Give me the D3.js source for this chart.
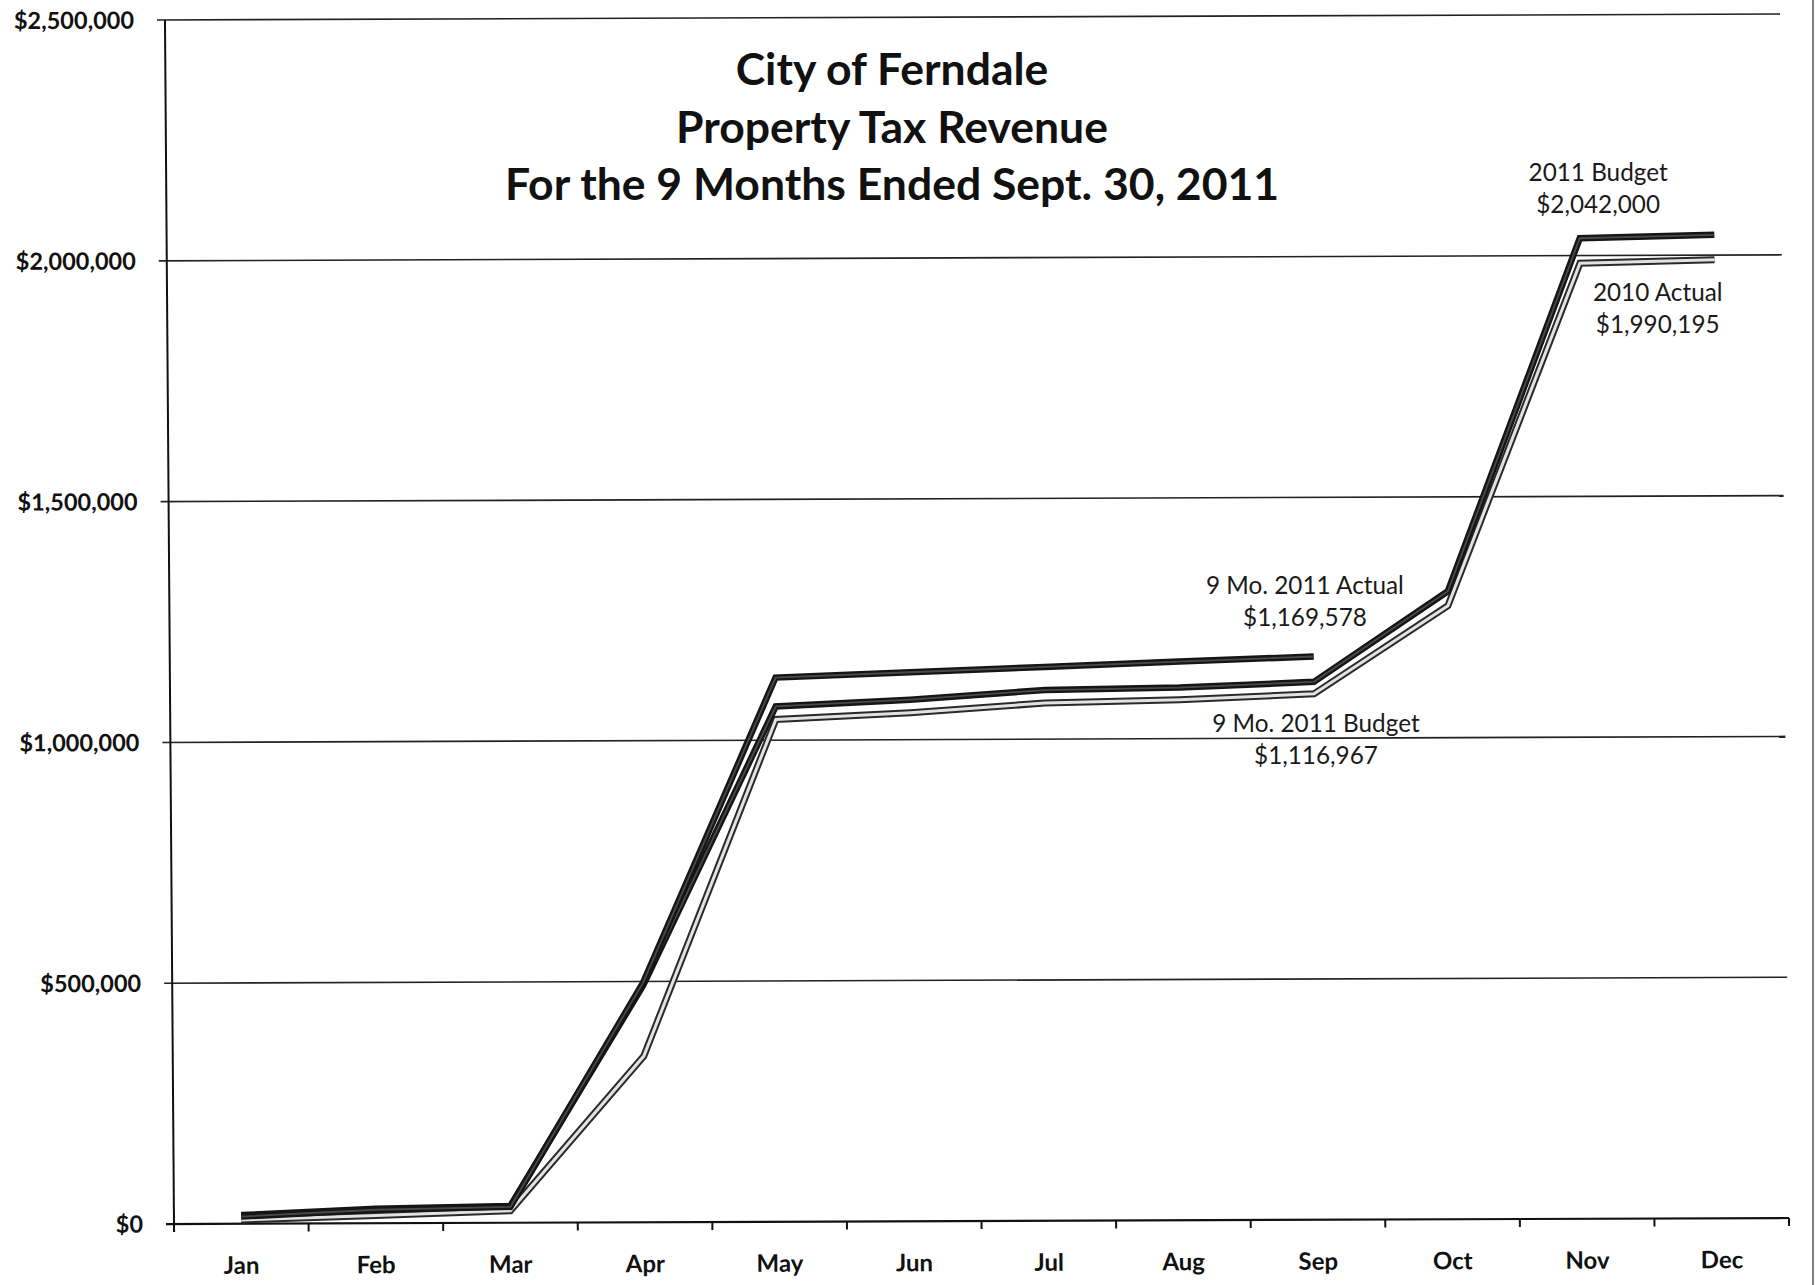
<!DOCTYPE html>
<html><head><meta charset="utf-8">
<script src="https://cdn.jsdelivr.net/npm/d3@7/dist/d3.min.js"></script>
<style>
body{margin:0;background:#fff}
svg{display:block}
</style>
</head><body>
<svg id="chart" width="1818" height="1285"></svg>
<script>
// ---------- data ----------
const months = ["Jan","Feb","Mar","Apr","May","Jun","Jul","Aug","Sep","Oct","Nov","Dec"];
const budget2011   = [18000, 30000, 35000, 492000, 1070000, 1083000, 1102000, 1106000, 1116967, 1304000, 2036000, 2042000];
const actual2010   = [8000, 16000, 25000, 345000, 1043000, 1056000, 1075000, 1081000, 1092000, 1274000, 1984000, 1990195];
const actual9mo2011 = [15000, 28000, 33000, 498000, 1130000, 1140000, 1150000, 1160000, 1169578];
const yTickValues = [0, 500000, 1000000, 1500000, 2000000, 2500000];
const titleLines = ["City of Ferndale", "Property Tax Revenue", "For the 9 Months Ended Sept. 30, 2011"];
const labelBudget = ["2011 Budget", "$2,042,000"];
const label2010 = ["2010 Actual", "$1,990,195"];
const label9moActual = ["9 Mo. 2011 Actual", "$1,169,578"];
const label9moBudget = ["9 Mo. 2011 Budget", "$1,116,967"];

// ---------- layout ----------
const svg = d3.select("#chart");
const x0 = 174, x1 = 1789, y0 = 1224, yTop = 20;
const xs = d3.scaleBand().domain(months).range([x0, x1]).padding(0);
const ys = d3.scaleLinear().domain([0, 2500000]).range([y0, yTop]);
const cx = m => xs(m) + xs.bandwidth() / 2;

// the scanned original is slightly skewed / rotated
const k = 0.0075, m = 0.0037;
const g = svg.append("g")
  .attr("transform", `translate(${x0},${y0}) matrix(1,${-m},${k},1,0,0) translate(${-x0},${-y0})`);

const font = "Lato, 'Open Sans', sans-serif";

// gridlines
g.append("g").selectAll("line").data(yTickValues).join("line")
  .attr("x1", x0 - 8).attr("x2", x1)
  .attr("y1", d => ys(d)).attr("y2", d => ys(d))
  .attr("stroke", d => d === 0 ? "#111" : "#222")
  .attr("stroke-width", d => d === 0 ? 2.2 : 1.6);

// y axis line
g.append("line").attr("x1", x0).attr("x2", x0).attr("y1", yTop).attr("y2", y0 + 8)
  .attr("stroke", "#111").attr("stroke-width", 2);

// y tick labels
g.append("g").selectAll("text").data(yTickValues).join("text")
  .attr("x", x0 - 31).attr("y", d => ys(d)).attr("dy", "0.36em")
  .attr("text-anchor", "end")
  .attr("font-family", font).attr("font-weight", 700).attr("font-size", 23.5)
  .attr("fill", "#111")
  .text(d => "$" + d3.format(",")(d));

// x ticks
const tickPositions = months.map(mo => xs(mo)).concat([x1]);
g.append("g").selectAll("line").data(tickPositions).join("line")
  .attr("x1", d => d).attr("x2", d => d).attr("y1", y0).attr("y2", y0 + 8)
  .attr("stroke", "#111").attr("stroke-width", 2);

// x labels
g.append("g").selectAll("text").data(months).join("text")
  .attr("x", d => cx(d)).attr("y", y0 + 50)
  .attr("text-anchor", "middle")
  .attr("font-family", font).attr("font-weight", 700).attr("font-size", 24)
  .attr("fill", "#111")
  .text(d => d);

// lines
const line = d3.line().x((d, i) => cx(months[i])).y(d => ys(d));

function hollow(data, outerW, outerC, innerW, innerC) {
  g.append("path").datum(data).attr("d", line).attr("fill", "none")
    .attr("stroke", outerC).attr("stroke-width", outerW).attr("stroke-linejoin", "miter");
  g.append("path").datum(data).attr("d", line).attr("fill", "none")
    .attr("stroke", innerC).attr("stroke-width", innerW).attr("stroke-linejoin", "miter");
}
hollow(actual2010, 7, "#2a2a2a", 3, "#e2e2e2");
hollow(budget2011, 6.5, "#151515", 1.8, "#4a4a4a");
hollow(actual9mo2011, 6.5, "#151515", 1.8, "#4a4a4a");

// title
svg.append("g").selectAll("text").data(titleLines).join("text")
  .attr("x", 892).attr("y", (d, i) => 85 + i * 57.5)
  .attr("text-anchor", "middle")
  .attr("font-family", font).attr("font-weight", 700).attr("font-size", 44.5)
  .attr("fill", "#111")
  .text(d => d);

// annotations
function annot(lines, x, y) {
  svg.append("g").selectAll("text").data(lines).join("text")
    .attr("x", x).attr("y", (d, i) => y + i * 32)
    .attr("text-anchor", "middle")
    .attr("font-family", font).attr("font-weight", 400).attr("font-size", 24.3)
    .attr("fill", "#1a1a1a")
    .text(d => d);
}
annot(labelBudget, cx("Nov") + 11, ys(2042000) - 60);
annot(label2010, cx("Dec") - 64, ys(1990195) + 35);
annot(label9moActual, cx("Sep") - 13, ys(1169578) - 67);
annot(label9moBudget, cx("Sep") - 2, ys(1116967) + 46);

// right border of the scanned page
svg.append("line").attr("x1", 1813).attr("x2", 1813).attr("y1", 0).attr("y2", 1285)
  .attr("stroke", "#555").attr("stroke-width", 1.5);
</script>
</body></html>
